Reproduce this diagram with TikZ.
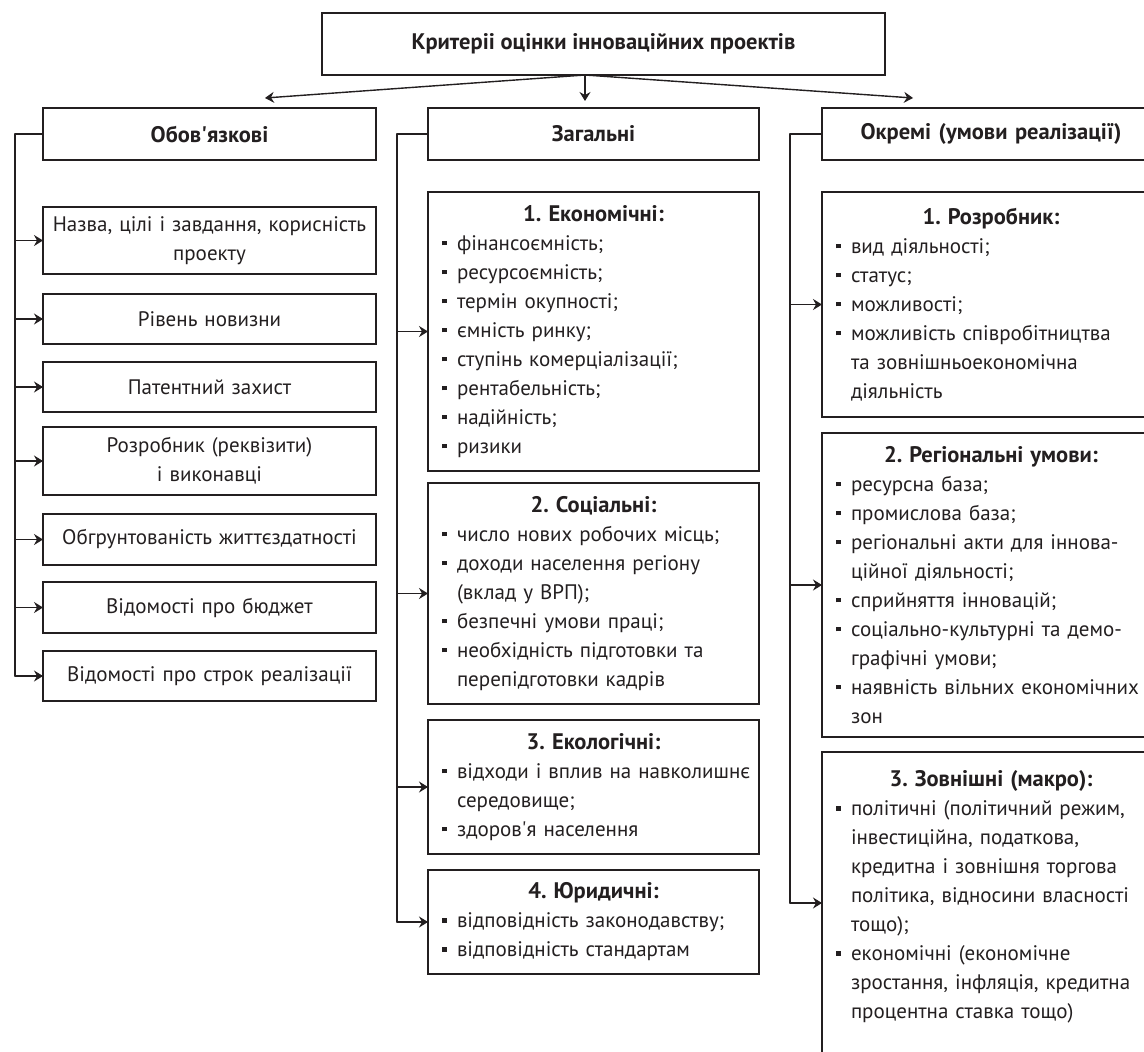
\documentclass[tikz,border=0pt]{standalone}
\usepackage{fontspec}
\setmainfont{PT Sans}
\usetikzlibrary{arrows.meta}
\definecolor{ink}{RGB}{35,31,32}
\newcommand{\bul}{\hspace*{9pt}\makebox[15pt][l]{\rule[5pt]{4.5pt}{4.5pt}}}
\newcommand{\ind}{\hspace*{24pt}}
\newcommand{\ttl}[1]{\makebox[\hsize]{\bfseries\fontsize{22.5}{29}\selectfont #1}}

\begin{document}
\frenchspacing
\begin{tikzpicture}[line cap=round,line join=round,>={Stealth[length=9pt,width=11pt,inset=3pt]},x=1pt,y=-1pt,
  box/.style={draw=ink,line width=2.6pt,line join=miter,rectangle,anchor=north west,outer sep=0pt,inner xsep=5pt,inner ysep=0pt,text=ink,font=\fontsize{21}{29}\selectfont},
  hdr/.style={box,minimum height=52pt,align=center,font=\bfseries\fontsize{22.5}{29}\selectfont},
  lbox/.style={box,minimum width=333pt,text width=323pt,align=center},
  mbox/.style={box,minimum width=331pt,text width=321pt,align=left},
  rbox/.style={box,minimum width=338pt,text width=328pt,align=left},
  conn/.style={draw=ink,line width=1.4pt}]
\useasboundingbox (0,0) rectangle (1144,1052);
\clip (0,0) rectangle (1144,1052);
\node[hdr,minimum width=563pt,minimum height=62pt] (crit) at (322,13) {Критеріі оцінки інноваційних проектів};
\node[hdr,minimum width=333pt] (obov) at (43,108) {Обов\textquotesingle язкові};
\node[hdr,minimum width=331pt] (zag) at (428,108) {Загальні};
\node[hdr,minimum width=338pt,text width=328pt] (okr) at (822,108) {Окремі (умови реалізації)};
\coordinate (tipl) at (265,98);
\coordinate (tipm) at (585,101);
\coordinate (tipr) at (913,98);
\draw[conn,->] (crit.south -| tipm) -- (tipl);
\draw[conn,->] (crit.south -| tipm) -- (tipm);
\draw[conn,->] (crit.south -| tipm) -- (tipr);
\node[lbox,minimum height=67pt] (naz) at (43,207) {Назва, цілі і завдання, корисність\\проекту};
\node[lbox,minimum height=50pt] (riv) at (43,294) {Рівень новизни};
\node[lbox,minimum height=50pt] (pat) at (43,362) {Патентний захист};
\node[lbox,minimum height=68pt] (rozr) at (43,427) {Розробник (реквізити)\\і виконавці};
\node[lbox,minimum height=51pt] (obgr) at (43,514) {Обгрунтованість життєздатності};
\node[lbox,minimum height=51pt] (bud) at (43,582) {Відомості про бюджет};
\node[lbox,minimum height=50pt] (strok) at (43,651) {Відомості про строк реалізації};
\node[mbox,minimum height=279pt] (ekon) at (428,192) {\ttl{1. Економічні:}\\\bul фінансоємність;\\\bul ресурсоємність;\\\bul термін окупності;\\\bul ємність ринку;\\\bul ступінь комерціалізації;\\\bul рентабельність;\\\bul надійність;\\\bul ризики};
\node[mbox,minimum height=221pt] (soc) at (428,483) {\ttl{2. Соціальні:}\\\bul число нових робочих місць;\\\bul доходи населення регіону\\\ind(вклад у ВРП);\\\bul безпечні умови праці;\\\bul необхідність підготовки та\\\ind перепідготовки кадрів};
\node[mbox,minimum height=134pt] (ekol) at (428,720) {\ttl{3. Екологічні:}\\\bul відходи і вплив на навколишнє\\\ind середовище;\\\bul здоров\textquotesingle я населення};
\node[mbox,minimum height=104pt] (jur) at (428,870) {\ttl{4. Юридичні:}\\\bul відповідність законодавству;\\\bul відповідність стандартам};
\node[rbox,minimum height=225pt] (dev) at (822,192) {\ttl{1. Розробник:}\\\bul вид діяльності;\\\bul статус;\\\bul можливості;\\\bul можливість співробітництва\\\ind та зовнішньоекономічна\\\ind діяльність};
\node[rbox,minimum height=304pt] (reg) at (822,433) {\ttl{2. Регіональні умови:}\\\bul ресурсна база;\\\bul промислова база;\\\bul регіональні акти для іннова-\\\ind ційної діяльності;\\\bul сприйняття інновацій;\\\bul соціально-культурні та демо-\\\ind графічні умови;\\\bul наявність вільних економічних\\\ind зон};
\node[rbox,minimum height=302pt] (ext) at (822,752) {\ttl{3. Зовнішні (макро):}\\\bul політичні (політичний режим,\\\ind інвестиційна, податкова,\\\ind кредитна і зовнішня торгова\\\ind політика, відносини власності\\\ind тощо);\\\bul економічні (економічне\\\ind зростання, інфляція, кредитна\\\ind процентна ставка тощо)\\[-12pt]\mbox{}};
\coordinate (tl) at (15,0);
\coordinate (tm) at (397,0);
\coordinate (tr) at (790,0);
\draw[conn] (obov.west) -| (tl |- strok.west);
\draw[conn] (zag.west) -| (tm |- jur.west);
\draw[conn] (okr.west) -| (tr |- ext.west);
\foreach \b in {naz,riv,pat,rozr,obgr,bud,strok}
\draw[conn,->] (tl |- \b.west) -- (\b.west);
\foreach \b in {ekon,soc,ekol,jur}
\draw[conn,->] (tm |- \b.west) -- (\b.west);
\foreach \b in {dev,reg,ext}
\draw[conn,->] (tr |- \b.west) -- (\b.west);
\end{tikzpicture}
\end{document}
